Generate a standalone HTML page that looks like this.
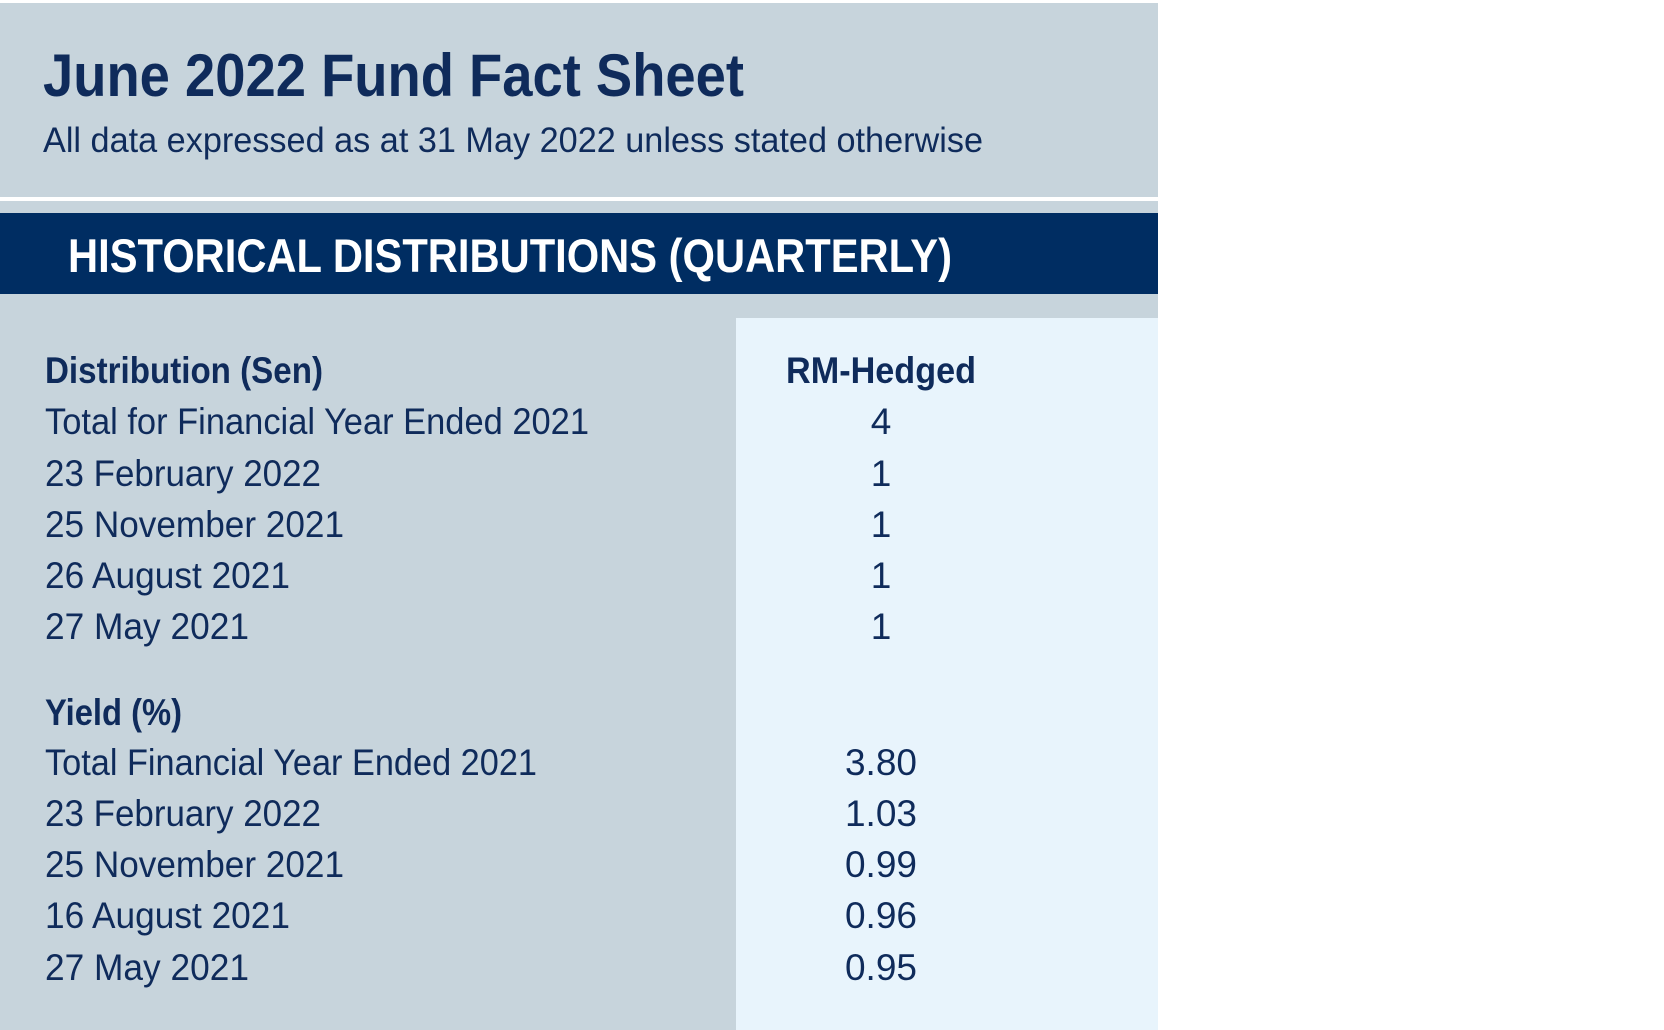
<!DOCTYPE html>
<html><head><meta charset="utf-8"><style>
html,body{margin:0;padding:0;background:#fff;width:1664px;height:1030px;overflow:hidden}
svg{display:block}
text{font-family:"Liberation Sans",sans-serif;fill:#0f2b5b}
</style></head><body>
<svg width="1664" height="1030" viewBox="0 0 1664 1030" xmlns="http://www.w3.org/2000/svg">
<rect x="0" y="3" width="1158" height="1027" fill="#c7d4dc"/>
<rect x="0" y="197" width="1158" height="4" fill="#ffffff"/>
<rect x="0" y="213" width="1158" height="81" fill="#002d62"/>
<rect x="736" y="318" width="422" height="712" fill="#e8f4fc"/>
<text x="43" y="96" font-size="60" font-weight="bold" textLength="701" lengthAdjust="spacingAndGlyphs">June 2022 Fund Fact Sheet</text>
<text x="43" y="152" font-size="35" textLength="940" lengthAdjust="spacingAndGlyphs">All data expressed as at 31 May 2022 unless stated otherwise</text>
<text x="68" y="272" font-size="47" font-weight="bold" textLength="884" lengthAdjust="spacingAndGlyphs" style="fill:#fff">HISTORICAL DISTRIBUTIONS (QUARTERLY)</text>
<g font-size="37">
<text x="45" y="383" font-weight="bold" textLength="278" lengthAdjust="spacingAndGlyphs">Distribution (Sen)</text>
<text x="45" y="434" textLength="544" lengthAdjust="spacingAndGlyphs">Total for Financial Year Ended 2021</text>
<text x="45" y="486" textLength="276" lengthAdjust="spacingAndGlyphs">23 February 2022</text>
<text x="45" y="537" textLength="299" lengthAdjust="spacingAndGlyphs">25 November 2021</text>
<text x="45" y="588" textLength="245" lengthAdjust="spacingAndGlyphs">26 August 2021</text>
<text x="45" y="639" textLength="204" lengthAdjust="spacingAndGlyphs">27 May 2021</text>
<text x="45" y="725" font-weight="bold" textLength="137" lengthAdjust="spacingAndGlyphs">Yield (%)</text>
<text x="45" y="775" textLength="492" lengthAdjust="spacingAndGlyphs">Total Financial Year Ended 2021</text>
<text x="45" y="826" textLength="276" lengthAdjust="spacingAndGlyphs">23 February 2022</text>
<text x="45" y="877" textLength="299" lengthAdjust="spacingAndGlyphs">25 November 2021</text>
<text x="45" y="928" textLength="245" lengthAdjust="spacingAndGlyphs">16 August 2021</text>
<text x="45" y="980" textLength="204" lengthAdjust="spacingAndGlyphs">27 May 2021</text>
<text x="786" y="383" font-weight="bold" textLength="190" lengthAdjust="spacingAndGlyphs">RM-Hedged</text>
<g text-anchor="middle">
<text x="881" y="434">4</text>
<text x="881" y="486">1</text>
<text x="881" y="537">1</text>
<text x="881" y="588">1</text>
<text x="881" y="639">1</text>
<text x="881" y="775">3.80</text>
<text x="881" y="826">1.03</text>
<text x="881" y="877">0.99</text>
<text x="881" y="928">0.96</text>
<text x="881" y="980">0.95</text>
</g>
</g>
</svg>
</body></html>
